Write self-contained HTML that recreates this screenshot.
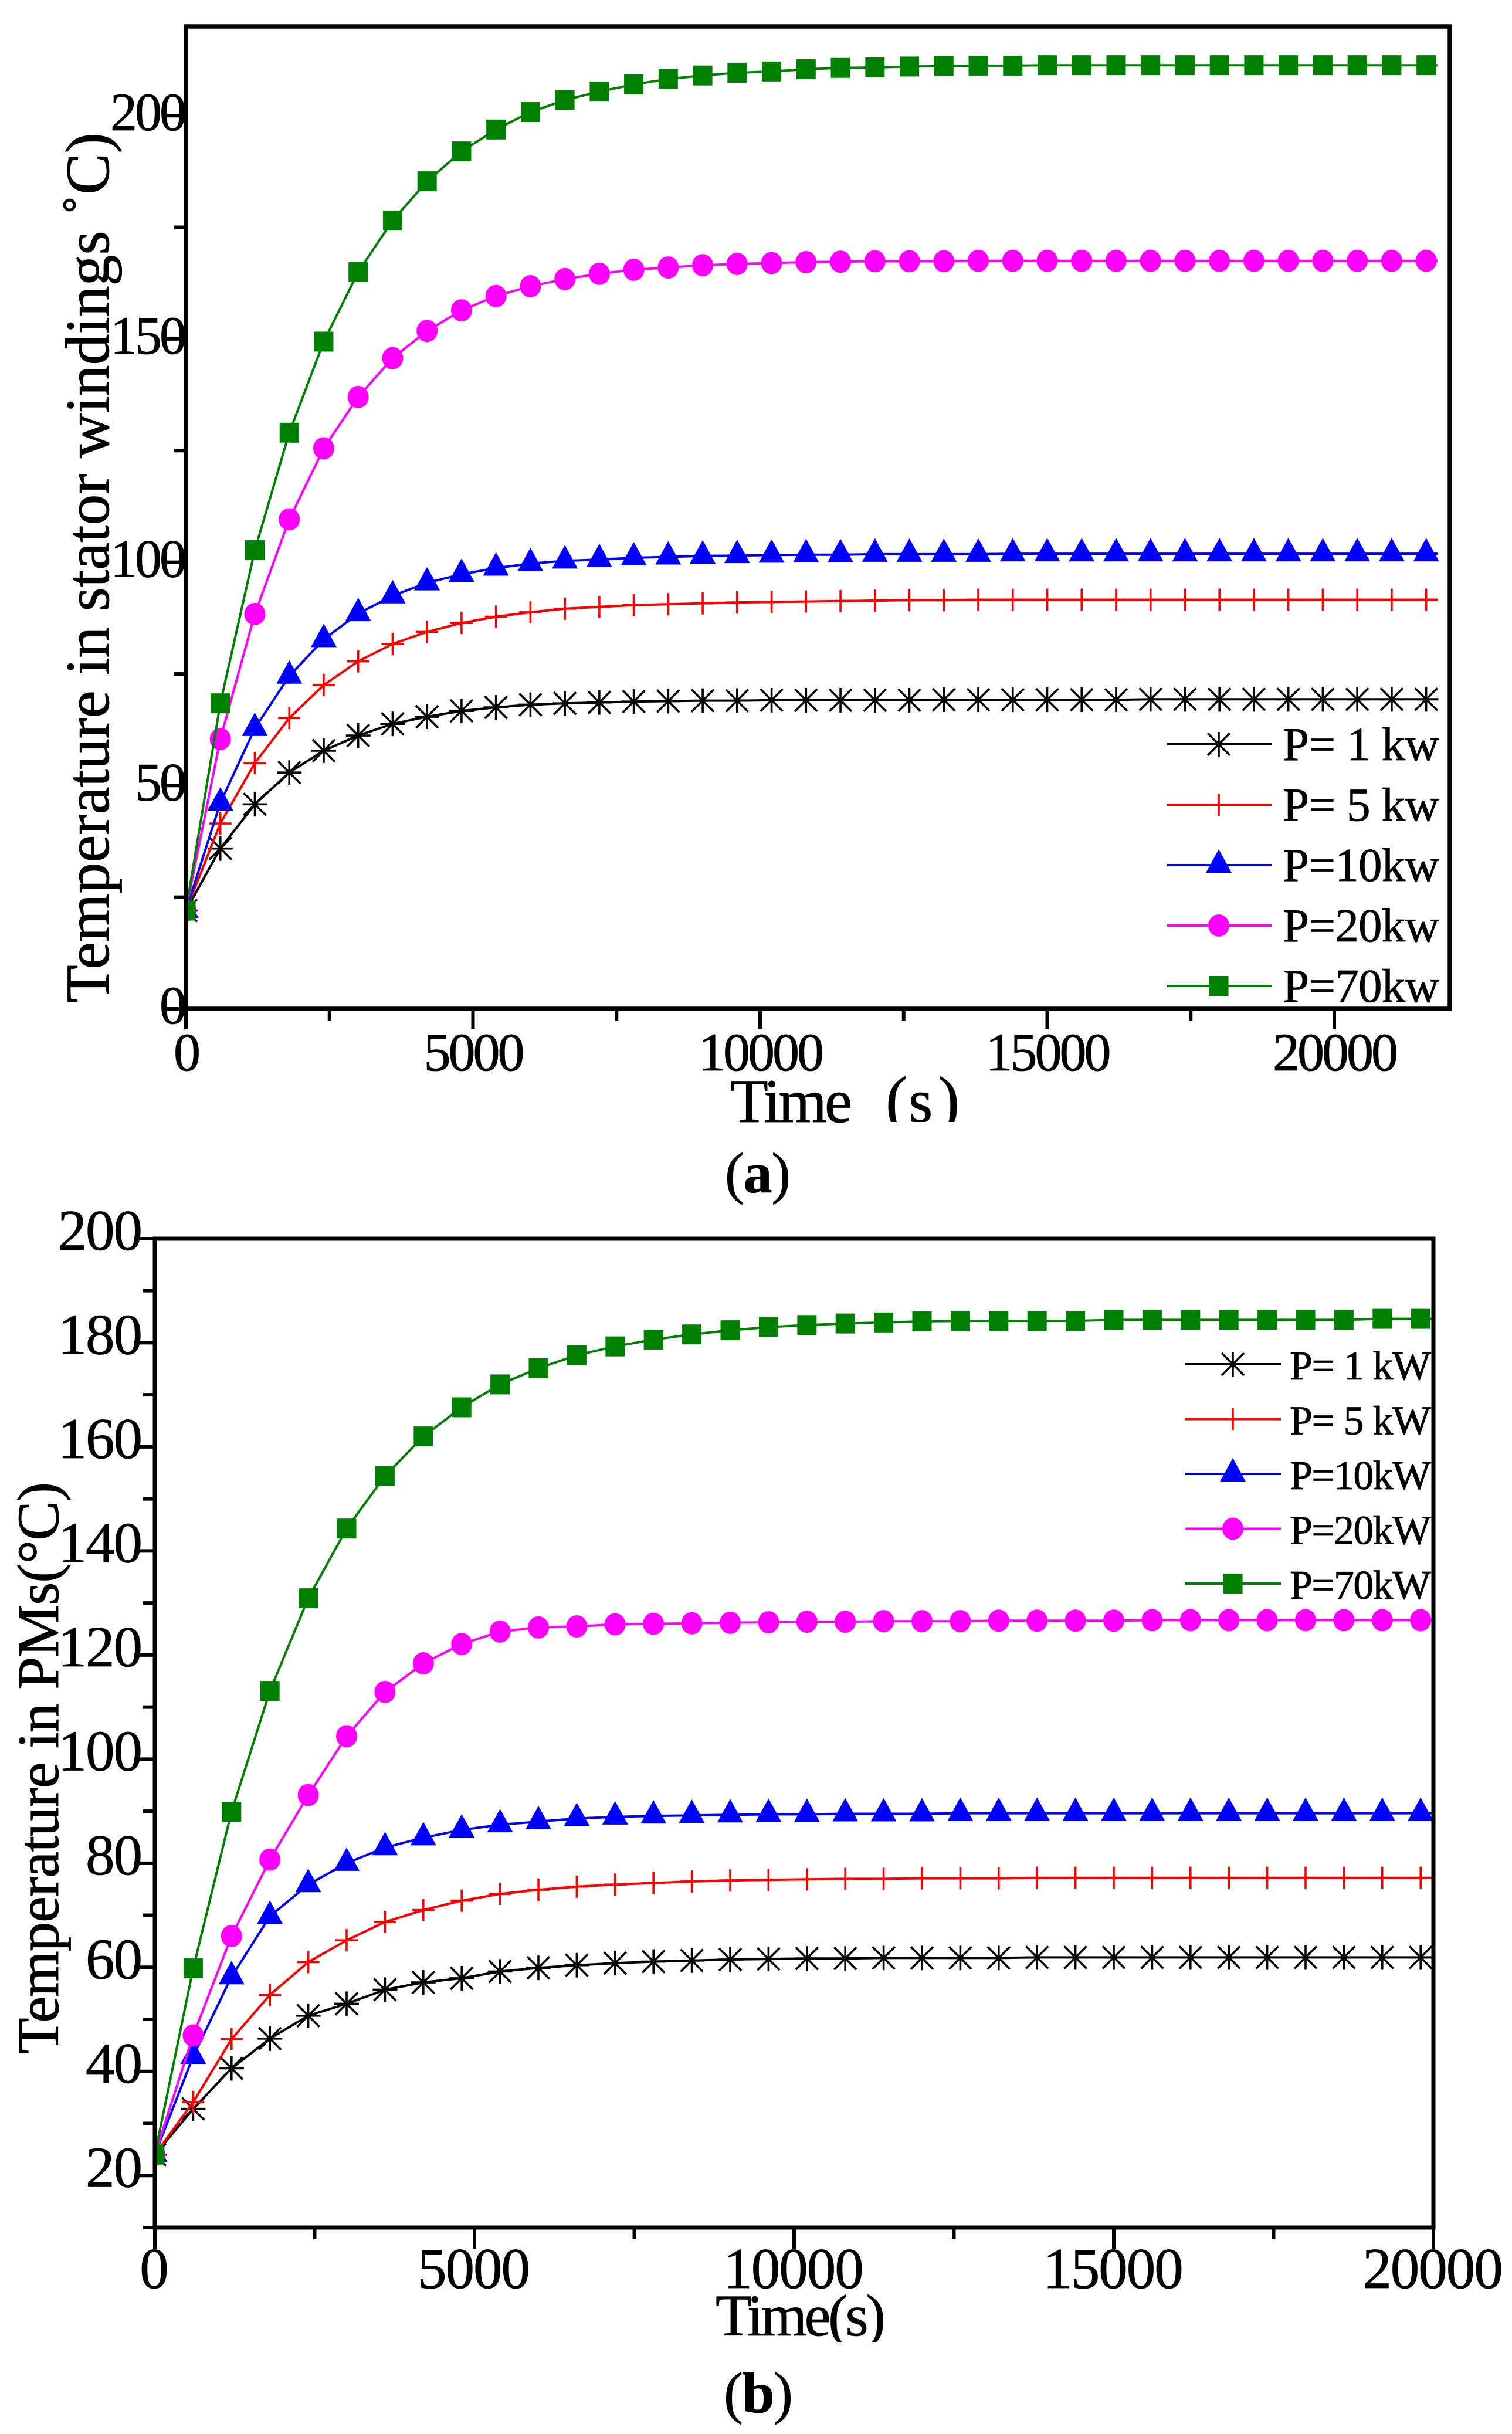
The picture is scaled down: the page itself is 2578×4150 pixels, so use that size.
<!DOCTYPE html>
<html lang="en">
<head>
<meta charset="utf-8">
<title>Temperature versus time charts</title>
<style>
html,body{margin:0;padding:0;background:#fff;}
svg{display:block;}
text{font-family:"Liberation Serif","Noto Serif CJK SC",serif;fill:#000;stroke:#000;stroke-width:0.8px;}
</style>
</head>
<body>
<svg id="fig" xmlns="http://www.w3.org/2000/svg" width="2578" height="4150" viewBox="0 0 2578 4150">
  <defs>
    <clipPath id="clip-time-a"><rect x="1100" y="1780" width="700" height="133"/></clipPath>
    <clipPath id="clip-time-b"><rect x="1100" y="3850" width="700" height="143"/></clipPath>
    <clipPath id="clip-plot-a"><rect x="317" y="45" width="2161" height="1675"/></clipPath>
    <clipPath id="clip-plot-b"><rect x="264" y="2112" width="2184" height="1686"/></clipPath>
  </defs>
  <rect x="0" y="0" width="2578" height="4150" fill="#fff"/>

  <g id="chart-a"></g>
  <g id="chart-b"></g>

  <text transform="translate(185,1710) rotate(-90)" font-size="106" textLength="1484" lengthAdjust="spacing">Temperature in stator windings ˚C)</text>
  <text x="1245" y="1913" font-size="106" textLength="208" lengthAdjust="spacing">Time</text>
  <g clip-path="url(#clip-time-a)">
    <text x="1510" y="1913" font-size="112">(</text>
    <text x="1549" y="1913" font-size="106">s</text>
    <text x="1599" y="1913" font-size="112">)</text>
  </g>
  <text x="1236" y="2033" font-size="98" textLength="112" lengthAdjust="spacing">(<tspan font-weight="bold">a</tspan>)</text>

  <text transform="translate(99,3502) rotate(-90)" font-size="101" textLength="975" lengthAdjust="spacing">Temperature in PMs(°C)</text>
  <text clip-path="url(#clip-time-b)" x="1220" y="3982" font-size="101" textLength="290" lengthAdjust="spacing">Time(s)</text>
  <text x="1234" y="4113" font-size="99" textLength="118" lengthAdjust="spacing">(<tspan font-weight="bold">b</tspan>)</text>
</svg>

<script>
// ---- Chart (a) data: temperature in stator windings ----
const timesA = [0,600,1200,1800,2400,3000,3600,4200,4800,5400,6000,6600,7200,7800,8400,9000,9600,10200,10800,11400,12000,12600,13200,13800,14400,15000,15600,16200,16800,17400,18000,18600,19200,19800,20400,21000,21600,21800];
const p1A  = [22,35.9,45.8,52.9,57.8,61.2,63.8,65.4,66.7,67.5,68.1,68.4,68.6,68.8,68.9,69,69,69.1,69.1,69.1,69.1,69.1,69.2,69.2,69.2,69.2,69.2,69.2,69.3,69.3,69.3,69.3,69.3,69.3,69.3,69.3,69.3,69.3];
const p5A  = [22,41.5,55,65.1,72.5,77.8,81.7,84.4,86.4,87.8,88.8,89.6,90,90.4,90.6,90.8,91,91.1,91.2,91.3,91.4,91.5,91.5,91.6,91.6,91.6,91.6,91.6,91.6,91.6,91.6,91.6,91.6,91.6,91.6,91.6,91.6,91.6];
const p10A = [22,46.1,62.8,74.5,82.7,88.5,92.5,95.4,97.3,98.7,99.7,100.3,100.6,101,101.2,101.4,101.5,101.6,101.7,101.7,101.8,101.8,101.8,101.8,101.9,101.9,101.9,101.9,101.9,101.9,101.9,101.9,101.9,101.9,101.9,101.9,101.9,101.9];
const p20A = [22,60.4,88.4,109.6,125.5,137,145.7,151.8,156.4,159.6,161.8,163.4,164.6,165.5,166,166.5,166.8,167,167.2,167.3,167.4,167.4,167.4,167.5,167.5,167.5,167.5,167.5,167.5,167.5,167.5,167.5,167.5,167.5,167.5,167.5,167.5,167.5];
const p70A = [22,68.4,102.7,129,149.4,165,176.5,185.3,192,196.9,200.8,203.5,205.4,207,208.2,209,209.6,209.9,210.4,210.7,210.8,211,211.1,211.2,211.2,211.3,211.3,211.3,211.3,211.3,211.3,211.3,211.3,211.3,211.3,211.3,211.3,211.3];
const xTickLabelsA = [0,5000,10000,15000,20000];
const xMinorTicksA = [2500,7500,12500,17500];
const yTickLabelsA = [0,50,100,150,200];
const yMinorTicksA = [25,75,125,175];
const legendLabelsA = ["P= 1 kw","P= 5 kw","P=10kw","P=20kw","P=70kw"];

// ---- Chart (b) data: temperature in PMs ----
const timesB = [0,600,1200,1800,2400,3000,3600,4200,4800,5400,6000,6600,7200,7800,8400,9000,9600,10200,10800,11400,12000,12600,13200,13800,14400,15000,15600,16200,16800,17400,18000,18600,19200,19800,20000];
const p1B  = [24,32.8,40.6,46.3,50.7,53,55.7,57.1,57.9,59.2,59.9,60.4,60.8,61.1,61.3,61.5,61.6,61.7,61.7,61.8,61.8,61.8,61.8,61.9,61.9,61.9,61.9,61.9,61.9,61.9,61.9,61.9,61.9,61.9,61.9];
const p5B  = [24,34.1,46.2,54.7,61,65.2,68.7,71,72.8,74.1,74.9,75.5,75.9,76.2,76.5,76.7,76.8,76.9,77,77,77.1,77.1,77.1,77.2,77.2,77.2,77.2,77.2,77.2,77.2,77.2,77.2,77.2,77.2,77.2];
const p10B = [24,42.9,58.2,69.8,75.9,80,83,84.9,86.4,87.4,88,88.6,88.9,89.1,89.2,89.3,89.4,89.4,89.5,89.5,89.5,89.6,89.6,89.6,89.6,89.6,89.6,89.6,89.6,89.6,89.6,89.6,89.6,89.6,89.6];
const p20B = [24,46.9,66,80.7,93.1,104.4,112.9,118.4,122.1,124.5,125.3,125.5,125.9,126,126.1,126.2,126.3,126.4,126.4,126.5,126.5,126.5,126.6,126.6,126.6,126.6,126.7,126.7,126.7,126.7,126.7,126.7,126.7,126.7,126.7];
const p70B = [24,59.8,89.9,113.1,130.9,144.3,154.4,162,167.6,172,175.1,177.6,179.3,180.6,181.6,182.4,183,183.4,183.7,183.9,184.1,184.2,184.2,184.2,184.2,184.4,184.4,184.4,184.4,184.4,184.4,184.4,184.6,184.6,184.6];
const xTickLabelsB = [0,5000,10000,15000,20000];
const xMinorTicksB = [2500,7500,12500,17500];
const yTickLabelsB = [20,40,60,80,100,120,140,160,180,200];
const yMinorTicksB = [10,30,50,70,90,110,130,150,170,190];
const legendLabelsB = ["P= 1 kW","P= 5 kW","P=10kW","P=20kW","P=70kW"];

const NS = "http://www.w3.org/2000/svg";
function mk(tag, parent, geo){
  const el = document.createElementNS(NS, tag);
  for (const k in geo) el.setAttribute(k, geo[k]);
  parent.appendChild(el);
  return el;
}
function line(parent, x1, y1, x2, y2, color, w){
  return mk("line", parent, {x1:x1,y1:y1,x2:x2,y2:y2,stroke:color,"stroke-width":w});
}
function drawMarker(g, kind, cx, cy, color){
  if (kind === "star"){
    const r = 19;
    line(g, cx-r, cy-r, cx+r, cy+r, color, 3.6);
    line(g, cx-r, cy+r, cx+r, cy-r, color, 3.6);
    line(g, cx, cy-r-2, cx, cy+r+2, color, 3.6);
    line(g, cx-r-2, cy, cx+r+2, cy, color, 3.6);
  } else if (kind === "plus"){
    line(g, cx, cy-19, cx, cy+19, color, 3.6);
    line(g, cx-19, cy, cx+19, cy, color, 3.6);
  } else if (kind === "tri"){
    mk("polygon", g, {points:(cx)+","+(cy-27)+" "+(cx+22)+","+(cy+13)+" "+(cx-22)+","+(cy+13), fill:color});
  } else if (kind === "circ"){
    mk("ellipse", g, {cx:cx, cy:cy, rx:18, ry:19, fill:color});
  } else {
    mk("rect", g, {x:cx-16.5, y:cy-17, width:33, height:34, fill:color});
  }
}

function drawChart(root, cfg){
  const xPos = t => cfg.x0 + (t - cfg.tMin) * cfg.sx;
  const yPos = v => cfg.yBase - (v - cfg.vMin) * cfg.sy;

  cfg.series.forEach(s => {
    const g = mk("g", root, {"clip-path":"url(#"+cfg.clipId+")"});
    
    
    const pts = cfg.times.map((t,i) => xPos(t).toFixed(1)+","+yPos(s.values[i]).toFixed(1)).join(" ");
    const pl = mk("polyline", g, {points:pts, fill:"none", stroke:s.color, "stroke-width":4, "stroke-linejoin":"round"});
    
    
    cfg.times.forEach((t,i) => {
      if (i === cfg.times.length-1) return;
      drawMarker(g, s.kind, xPos(t), yPos(s.values[i]), s.color);
    });
  });

  const frame = mk("rect", root, {x:cfg.x0, y:cfg.top, width:cfg.right-cfg.x0, height:cfg.yBase-cfg.top, fill:"none", stroke:"#000", "stroke-width":cfg.frameW});
  
  

  cfg.yMajor.forEach(v => {
    const t = line(root, cfg.x0-cfg.majorLen, yPos(v), cfg.x0, yPos(v), "#000", 6);
    
    
    const lab = mk("text", root, {x:cfg.yLabelX, y:yPos(v)+cfg.yLabelDy, "text-anchor":"end", "font-size":cfg.tickFont, style:"letter-spacing:"+cfg.tickLs+"px"});
    lab.textContent = String(v);
    
    
  });
  cfg.yMinor.forEach(v => {
    const t = line(root, cfg.x0-cfg.minorLen, yPos(v), cfg.x0, yPos(v), "#000", 6);
    
    
  });
  cfg.xMajor.forEach(v => {
    const t = line(root, xPos(v), cfg.yBase, xPos(v), cfg.yBase+cfg.majorLen, "#000", 6);
    
    
    const lab = mk("text", root, {x:xPos(v)+cfg.xLabelDx, y:cfg.xLabelY, "text-anchor":"middle", "font-size":cfg.tickFont, style:"letter-spacing:"+cfg.tickLs+"px"});
    lab.textContent = String(v);
    
    
  });
  cfg.xMinor.forEach(v => {
    const t = line(root, xPos(v), cfg.yBase, xPos(v), cfg.yBase+cfg.minorLen, "#000", 6);
    
    
  });

  cfg.series.forEach((s,i) => {
    const g = mk("g", root, {});
    
    
    const ly = cfg.legendY + i*cfg.legendStep;
    line(g, cfg.legendX1, ly, cfg.legendX2, ly, s.color, 4);
    drawMarker(g, s.kind, cfg.legendMX, ly, s.color);
    const tx = mk("text", g, {x:cfg.legendTX, y:ly+cfg.legendDy, "font-size":cfg.legendFont, textLength:cfg.legendLen, lengthAdjust:"spacing"});
    tx.textContent = cfg.legendLabels[i];
    
    
  });
}

drawChart(document.getElementById("chart-a"), {
  x0:317, right:2472, top:45, yBase:1720, tMin:0, sx:0.0979, vMin:0, sy:7.614, frameW:7.5, clipId:"clip-plot-a",
  majorLen:35, minorLen:20, tickFont:92, tickLs:-4, yLabelX:314, yLabelDy:25, xLabelDx:0, xLabelY:1825,
  times:timesA, yMajor:yTickLabelsA, yMinor:yMinorTicksA, xMajor:xTickLabelsA, xMinor:xMinorTicksA,
  series:[
    {name:"series-p-1kw", values:p1A, color:"#000000", kind:"star"},
    {name:"series-p-5kw", values:p5A, color:"#ff0000", kind:"plus"},
    {name:"series-p-10kw", values:p10A, color:"#0000ff", kind:"tri"},
    {name:"series-p-20kw", values:p20A, color:"#ff00ff", kind:"circ"},
    {name:"series-p-70kw", values:p70A, color:"#008000", kind:"sq"}
  ],
  legendLabels:legendLabelsA, legendY:1269, legendStep:103, legendX1:1990, legendX2:2168, legendMX:2078,
  legendTX:2187, legendDy:27, legendFont:81, legendLen:267
});

drawChart(document.getElementById("chart-b"), {
  x0:264, right:2444, top:2112, yBase:3798, tMin:0, sx:0.109, vMin:10, sy:8.874, frameW:7, clipId:"clip-plot-b",
  majorLen:36, minorLen:20, tickFont:99, tickLs:-2, yLabelX:241, yLabelDy:19, xLabelDx:-2, xLabelY:3901,
  times:timesB, yMajor:yTickLabelsB, yMinor:yMinorTicksB, xMajor:xTickLabelsB, xMinor:xMinorTicksB,
  series:[
    {name:"series-p-1kw", values:p1B, color:"#000000", kind:"star"},
    {name:"series-p-5kw", values:p5B, color:"#ff0000", kind:"plus"},
    {name:"series-p-10kw", values:p10B, color:"#0000ff", kind:"tri"},
    {name:"series-p-20kw", values:p20B, color:"#ff00ff", kind:"circ"},
    {name:"series-p-70kw", values:p70B, color:"#008000", kind:"sq"}
  ],
  legendLabels:legendLabelsB, legendY:2326, legendStep:93.5, legendX1:2021, legendX2:2184, legendMX:2102,
  legendTX:2199, legendDy:26, legendFont:70, legendLen:241
});
</script>
</body>
</html>
